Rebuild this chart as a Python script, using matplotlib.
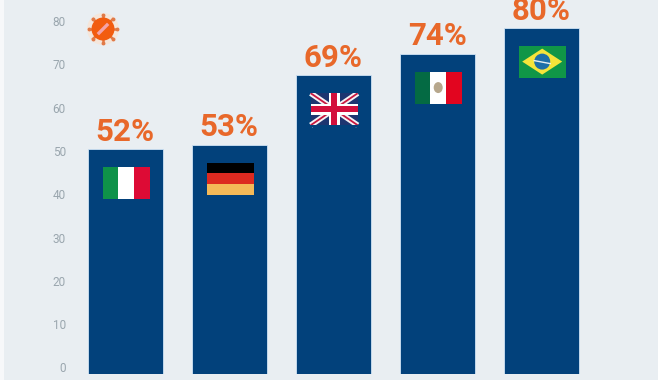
import matplotlib
matplotlib.use("Agg")
import matplotlib.pyplot as plt
from matplotlib.patches import Rectangle, Polygon, Ellipse
from matplotlib.transforms import ScaledTranslation

countries = ["Italy", "Germany", "UK", "Mexico", "Brazil"]
values = [52, 53, 69, 74, 80]
yticks = [0, 10, 20, 30, 40, 50, 60, 70, 80]

bg = "#e9eef2"
navy = "#02417b"
orange = "#e8682a"
px_x = 104.0
px_y = 4.33
x_zero = 125.2
flag_w = 47 / px_x
flag_h = 32 / px_y
flag_gap = 18 / px_y
flag_shift = 1 / px_x

fig = plt.figure(figsize=(6.58, 3.8), dpi=100, facecolor=bg)
ax = fig.add_axes([70 / 658, 6 / 380, 588 / 658, 374 / 380])
ax.set_facecolor(bg)
fig.patches.append(Rectangle((0, 0), 4 / 658, 1, transform=fig.transFigure, color="#f7f8fa", lw=0))

xs = list(range(len(values)))
ax.bar(xs, values, width=75 / px_x, color=navy, edgecolor="#cfe3f5", linewidth=0.6)
ax.set_xlim((70 - x_zero) / px_x, (658 - x_zero) / px_x)
ax.set_ylim(0, 374 / px_y)
ax.set_yticks(yticks)
ax.set_xticks([])
ax.tick_params(axis="y", length=0, pad=3, labelsize=8.5, labelcolor="#9aa6ae")
for lab in ax.get_yticklabels():
    lab.set_family("Roboto")
    lab.set_transform(lab.get_transform() + ScaledTranslation(0, 6.5 / 100, fig.dpi_scale_trans))
for s in ax.spines.values():
    s.set_visible(False)

for x, v in zip(xs, values):
    ax.annotate(f"{v}%", (x, v), xytext=(0, 1.5), textcoords="offset points", ha="center", va="bottom",
                fontsize=22.5, fontweight="bold", family="Roboto", color=orange, annotation_clip=False, clip_on=True)


def rect(x0, y0, w, h, c, z=3):
    ax.add_patch(Rectangle((x0, y0), w, h, facecolor=c, edgecolor="none", zorder=z))


def flag_box(i):
    x0 = xs[i] - flag_w / 2 + flag_shift
    y1 = values[i] - flag_gap
    return x0, y1 - flag_h


# flags
x0, y0 = flag_box(0)
for k, c in enumerate(["#0f9249", "#ffffff", "#dd0b35"]):
    rect(x0 + k * flag_w / 3, y0, flag_w / 3, flag_h, c)

x0, y0 = flag_box(1)
for k, c in enumerate(["#f4b958", "#dd2a20", "#000000"]):
    rect(x0, y0 + k * flag_h / 3, flag_w, flag_h / 3, c)

x0, y0 = flag_box(2)
rect(x0, y0, flag_w, flag_h, "#1d3570")
cx, cy = x0 + flag_w / 2, y0 + flag_h / 2
for a, b in [((x0, y0 + flag_h), (x0 + flag_w, y0)), ((x0, y0), (x0 + flag_w, y0 + flag_h))]:
    ax.plot([a[0], b[0]], [a[1], b[1]], color="#f6f2f4", lw=4, zorder=4, solid_capstyle="butt")
    ax.plot([a[0], b[0]], [a[1], b[1]], color="#c8173f", lw=1.3, zorder=4, solid_capstyle="butt")
rect(x0 - 1 / px_x, y0 - 2 / px_y, flag_w + 2 / px_x, 2 / px_y, navy, 4)
rect(x0 - 1 / px_x, y0 + flag_h, flag_w + 2 / px_x, 2 / px_y, navy, 4)
rect(cx - 5.5 / px_x, y0, 11 / px_x, flag_h, "#ffffff", 5)
rect(x0, cy - 5.5 / px_y, flag_w, 11 / px_y, "#ffffff", 5)
rect(cx - 3.2 / px_x, y0, 6.4 / px_x, flag_h, "#d30f3c", 6)
rect(x0, cy - 3.2 / px_y, flag_w, 6.4 / px_y, "#d30f3c", 6)

x0, y0 = flag_box(3)
for k, c in enumerate(["#046a43", "#ffffff", "#e2051f"]):
    rect(x0 + k * flag_w / 3, y0, flag_w / 3, flag_h, c)
ax.add_patch(Ellipse((xs[3] + flag_shift, y0 + flag_h / 2), 9 / px_x, 11 / px_y, facecolor="#b7a78c", edgecolor="none", zorder=4))

x0, y0 = flag_box(4)
rect(x0, y0, flag_w, flag_h, "#109647")
cx, cy = x0 + flag_w / 2, y0 + flag_h / 2
ax.add_patch(Polygon([(cx - 20 / px_x, cy), (cx, cy + 13 / px_y), (cx + 20 / px_x, cy), (cx, cy - 13 / px_y)],
                     facecolor="#f5e43a", edgecolor="none", zorder=4))
ax.add_patch(Ellipse((cx, cy), 16 / px_x, 16 / px_y, facecolor="#1e6fa8", edgecolor="none", zorder=5))
ax.plot([cx - 8 / px_x, cx + 8 / px_x], [cy + 1 / px_y, cy - 2 / px_y], color="#e6eef0", lw=1, zorder=6)

# virus icon
vx, vy = (103 - x_zero) / px_x, (374 - 29) / px_y
ax.add_patch(Ellipse((vx, vy), 32 / px_x, 32 / px_y, facecolor="#f5e6db", edgecolor="none", zorder=3))
for a, b in [(-1, 0), (1, 0), (0, -1), (0, 1), (-.7, -.7), (.7, .7), (-.7, .7), (.7, -.7)]:
    ax.plot([vx, vx + a * 14 / px_x], [vy, vy + b * 14 / px_y], color="#e07a48", lw=1.8, zorder=4)
    ax.plot([vx + a * 14 / px_x], [vy + b * 14 / px_y], "o", ms=2.8, color="#e07a48", mew=0, zorder=4)
ax.add_patch(Ellipse((vx, vy), 23 / px_x, 23 / px_y, facecolor="#f25c0f", edgecolor="none", zorder=5))
ax.plot([vx - 4 / px_x, vx + 4 / px_x], [vy - 4 / px_y, vy + 4 / px_y], color="#f4a3a8", lw=2.4, zorder=6)

fig.savefig("out.png", dpi=100, facecolor=bg)
